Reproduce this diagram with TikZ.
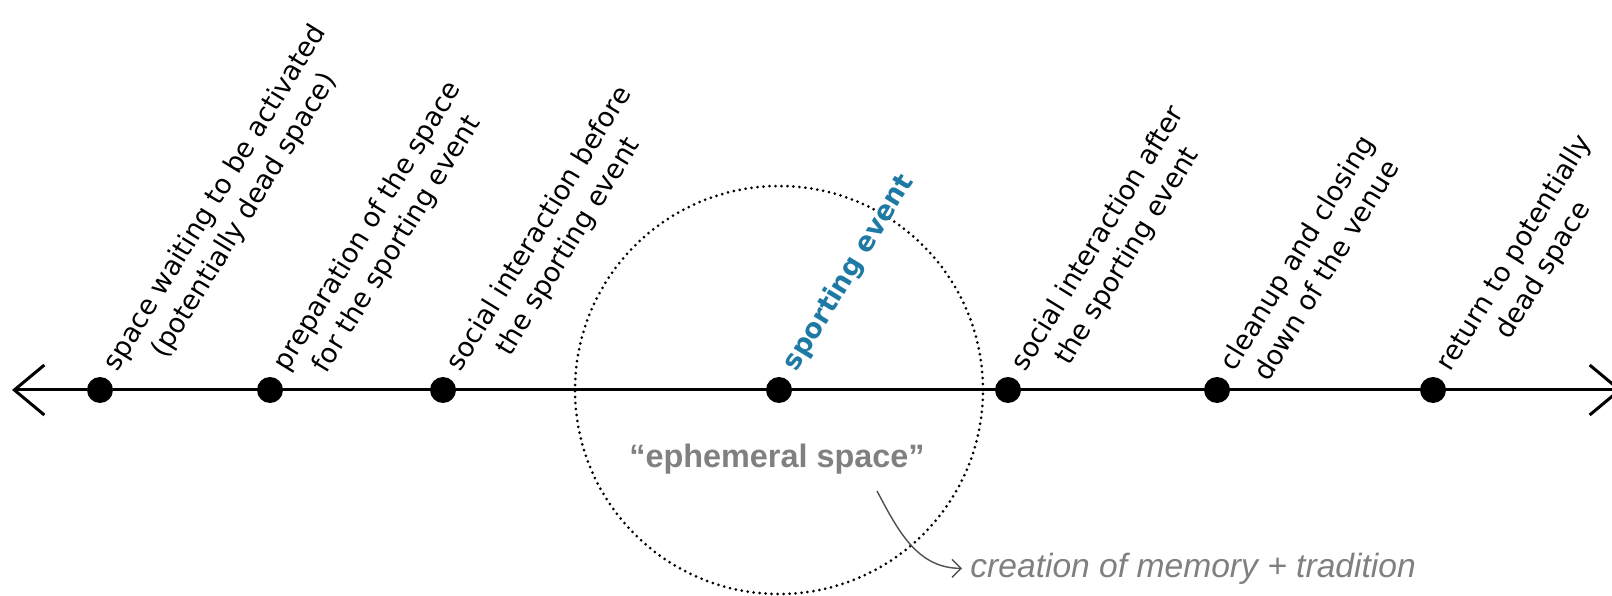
\documentclass[tikz,border=0pt]{standalone}
\usepackage{fontspec}
\setmainfont{DejaVu Sans}
\newfontfamily\notefont{Liberation Sans}
\usetikzlibrary{arrows.meta, positioning}

\definecolor{eventblue}{RGB}{30,122,164}
\definecolor{notegray}{RGB}{128,128,128}
\definecolor{arrowgray}{RGB}{80,80,80}

\begin{document}
\begin{tikzpicture}[
    x=0.5pt, y=0.5pt,
    timeline/.style={
        line width=1.5pt, draw=black,
        <->, >={Straight Barb[length=15pt, width=25pt]}
    },
    stage/.style={
        circle, fill=black, inner sep=0pt, minimum size=13pt
    },
    phase/.style={
        rotate=58.5, anchor=base west, align=center, inner sep=0pt,
        xshift=12pt, yshift=-3pt, font=\fontsize{13.5}{17}\selectfont
    },
    twolines/.style={
        yshift=-17pt
    },
    zone/.style={
        draw=black, line width=1.5pt, line cap=round,
        dash pattern=on 0pt off 3pt
    },
    note/.style={
        inner sep=0pt, text=notegray
    },
    link/.style={
        -{Straight Barb[length=4.5pt, width=9pt]}, line width=0.7pt, draw=arrowgray
    }
]
    \useasboundingbox (0,0) rectangle (1612,595);

    % --- EPHEMERAL ZONE ---
    \draw [zone] (779,205) circle [radius=204];

    % --- TIMELINE ---
    \coordinate (c_left) at (12,205);
    \coordinate (c_right) at (1622,205);
    \draw [timeline] (c_left) -- (c_right);

    \node [stage] (t_idle)    at (100,205)  {};
    \node [stage] (t_prep)    at (270,205)  {};
    \node [stage] (t_before)  at (443,205)  {};
    \node [stage] (t_event)   at (779,205)  {};
    \node [stage] (t_after)   at (1008,205) {};
    \node [stage] (t_cleanup) at (1217,205) {};
    \node [stage] (t_return)  at (1433,205) {};

    % --- PHASE LABELS ---
    \node [phase, twolines] (l_idle)    at (t_idle)    {space waiting to be activated\\(potentially dead space)};
    \node [phase, twolines] (l_prep)    at (t_prep)    {preparation of the space\\for the sporting event};
    \node [phase, twolines] (l_before)  at (t_before)  {social interaction before\\the sporting event};
    \node [phase, text=eventblue, font=\fontsize{13.5}{17}\selectfont\bfseries] (l_event) at (t_event) {sporting event};
    \node [phase, twolines] (l_after)   at (t_after)   {social interaction after\\the sporting event};
    \node [phase, twolines] (l_cleanup) at (t_cleanup) {cleanup and closing\\down of the venue};
    \node [phase, twolines] (l_return)  at (t_return)  {return to potentially\\dead space};

    % --- NOTES ---
    \node [note, anchor=base, font=\notefont\fontsize{16.2}{19}\selectfont\bfseries] (n_ephem) at (777,128) {“ephemeral space”};
    \node [note, anchor=base west, inner sep=4pt, font=\notefont\fontsize{16.8}{19}\selectfont\itshape] (n_memory) at (962,18) {creation of memory + tradition};
    \coordinate (c_from) at (877,104);
    \draw [link] (c_from) to [out=-62, in=180] (n_memory.west);

\end{tikzpicture}
\end{document}
